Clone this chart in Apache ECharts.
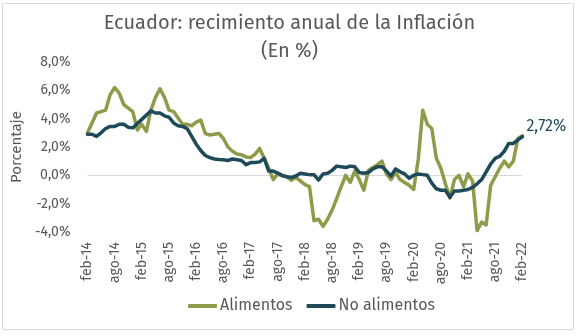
<!DOCTYPE html>
<html>
<head>
<meta charset="utf-8">
<script src="https://cdn.jsdelivr.net/npm/echarts@6/dist/echarts.min.js"></script>
<style>
  html, body { margin: 0; padding: 0; background: #ffffff; }
  #chart { width: 579px; height: 336px; }
</style>
</head>
<body>
<div id="chart"></div>
<script>
// Monthly series, feb-2014 .. feb-2022
const monthNames = ['ene', 'feb', 'mar', 'abr', 'may', 'jun', 'jul', 'ago', 'sep', 'oct', 'nov', 'dic'];
const categories = [];
for (let k = 0; k < 97; k++) {
  const m = (1 + k) % 12;
  const yy = 14 + Math.floor((1 + k) / 12);
  categories.push(monthNames[m] + '-' + yy);
}

// Annual variation, food (%)
const alimentos = [
  3.0, 3.7, 4.4, 4.5, 4.6, 5.7, 6.2, 5.8, 5.0, 4.75, 4.5, 3.2,
  3.6, 3.1, 4.6, 5.5, 6.1, 5.5, 4.6, 4.5, 4.05, 3.6, 3.6, 3.5,
  3.75, 3.9, 2.95, 2.85, 2.9, 2.95, 2.6, 2.0, 1.7, 1.5, 1.45, 1.3,
  1.25, 1.5, 1.9, 1.2, 0.5, -0.3, 0.1, -0.05, -0.1, -0.35, -0.15, -0.4,
  -0.65, -0.8, -3.2, -3.1, -3.6, -3.1, -2.45, -1.65, -0.8, 0.0, -0.5, 0.3,
  -0.3, -1.05, 0.35, 0.55, 0.75, 1.0, 0.1, -0.3, 0.2, -0.3, -0.5, -0.7,
  -1.0, 1.1, 4.6, 3.6, 3.3, 1.2, 0.5, -0.6, -1.6, -0.3, 0.0, -0.8,
  0.1, -0.4, -3.9, -3.3, -3.5, -0.7, -0.1, 0.5, 1.0, 0.6, 1.0, 2.6,
  2.8
];

// Annual variation, non-food (%)
const noAlimentos = [
  2.9, 2.9, 2.75, 3.0, 3.3, 3.45, 3.45, 3.6, 3.6, 3.4, 3.35, 3.65,
  3.95, 4.25, 4.55, 4.4, 4.4, 4.2, 4.1, 3.7, 3.5, 3.45, 3.3, 2.75,
  2.2, 1.75, 1.4, 1.25, 1.15, 1.12, 1.1, 1.05, 1.15, 1.1, 1.05, 0.75,
  0.9, 0.9, 0.95, 1.2, 0.3, 0.3, 0.15, 0.0, -0.1, -0.15, -0.05, 0.15,
  0.1, 0.05, 0.05, -0.33, 0.1, 0.15, 0.35, 0.65, 0.6, 0.55, 0.65, 0.6,
  0.2, 0.15, 0.2, 0.45, 0.6, 0.6, 0.3, -0.05, 0.45, 0.25, 0.1, -0.2,
  0.0, 0.1, 0.05, 0.0, -0.55, -0.95, -1.05, -1.05, -1.55, -1.1, -1.1, -1.05,
  -1.0, -0.85, -0.6, -0.3, 0.25, 0.8, 1.2, 1.35, 1.7, 2.25, 2.25, 2.5,
  2.72
];

const yTicks = { min: -4, max: 8, interval: 2 };

const TEXT = '#595959';
const GREEN = '#8e9b48';
const TEAL = '#1e4a5a';
const FONT = "'Fira Sans', Roboto, 'Noto Sans', sans-serif";

const fmtPct = (v, d) => v.toFixed(d).replace('.', ',') + '%';

const chart = echarts.init(document.getElementById('chart'), null, { renderer: 'canvas' });

chart.setOption({
  animation: false,
  backgroundColor: '#ffffff',
  textStyle: { fontFamily: FONT, color: TEXT },
  graphic: [{
    type: 'rect',
    shape: { x: 2.5, y: 3.5, width: 571, height: 326 },
    style: { fill: 'none', stroke: '#d9d9d9', lineWidth: 1 },
    silent: true
  }],
  title: {
    text: 'Ecuador: recimiento anual de la Inflación\n(En %)',
    left: 'center',
    top: 4,
    textStyle: { fontFamily: FONT, fontSize: 20, lineHeight: 28, fontWeight: 'normal', color: TEXT }
  },
  legend: {
    left: 183,
    top: 293,
    itemWidth: 29,
    itemHeight: 4,
    itemGap: 14,
    icon: 'roundRect',
    textStyle: { fontFamily: FONT, fontSize: 16, color: TEXT, padding: [0, 0, 0, -2] },
    data: ['Alimentos', 'No alimentos']
  },
  grid: { left: 87.5, right: 56.6, top: 62, bottom: 104, containLabel: false },
  xAxis: {
    type: 'category',
    data: categories,
    boundaryGap: false,
    axisLine: { show: false },
    axisTick: { show: false },
    splitLine: { show: false },
    axisLabel: {
      interval: 5,
      rotate: 90,
      margin: 10,
      fontFamily: FONT,
      fontSize: 14,
      color: TEXT
    }
  },
  yAxis: {
    type: 'value',
    min: yTicks.min,
    max: yTicks.max,
    interval: yTicks.interval,
    name: 'Porcentaje',
    nameLocation: 'middle',
    nameGap: 57,
    nameTextStyle: { fontFamily: FONT, fontSize: 15, color: TEXT },
    axisLine: { show: false },
    axisTick: { show: false },
    splitLine: { show: false },
    axisLabel: {
      margin: 17,
      fontFamily: FONT,
      fontSize: 14,
      color: TEXT,
      formatter: v => fmtPct(v, 1)
    }
  },
  series: [
    {
      name: 'Alimentos',
      type: 'line',
      data: alimentos,
      showSymbol: false,
      symbol: 'none',
      itemStyle: { color: GREEN },
      lineStyle: { color: GREEN, width: 3.5, join: 'round', cap: 'round' },
      markLine: {
        silent: true,
        symbol: 'none',
        label: { show: false },
        lineStyle: { color: '#d9d9d9', type: 'solid', width: 1 },
        data: [{ yAxis: 0 }],
        z: 1
      },
      z: 2
    },
    {
      name: 'No alimentos',
      type: 'line',
      data: noAlimentos,
      showSymbol: false,
      symbol: 'none',
      itemStyle: { color: TEAL },
      lineStyle: { color: TEAL, width: 3.5, join: 'round', cap: 'round' },
      endLabel: {
        show: true,
        distance: 4,
        offset: [0, -10],
        fontFamily: FONT,
        fontSize: 16,
        color: TEAL,
        formatter: p => fmtPct(p.value, 2)
      },
      z: 3
    }
  ]
});
</script>
</body>
</html>
